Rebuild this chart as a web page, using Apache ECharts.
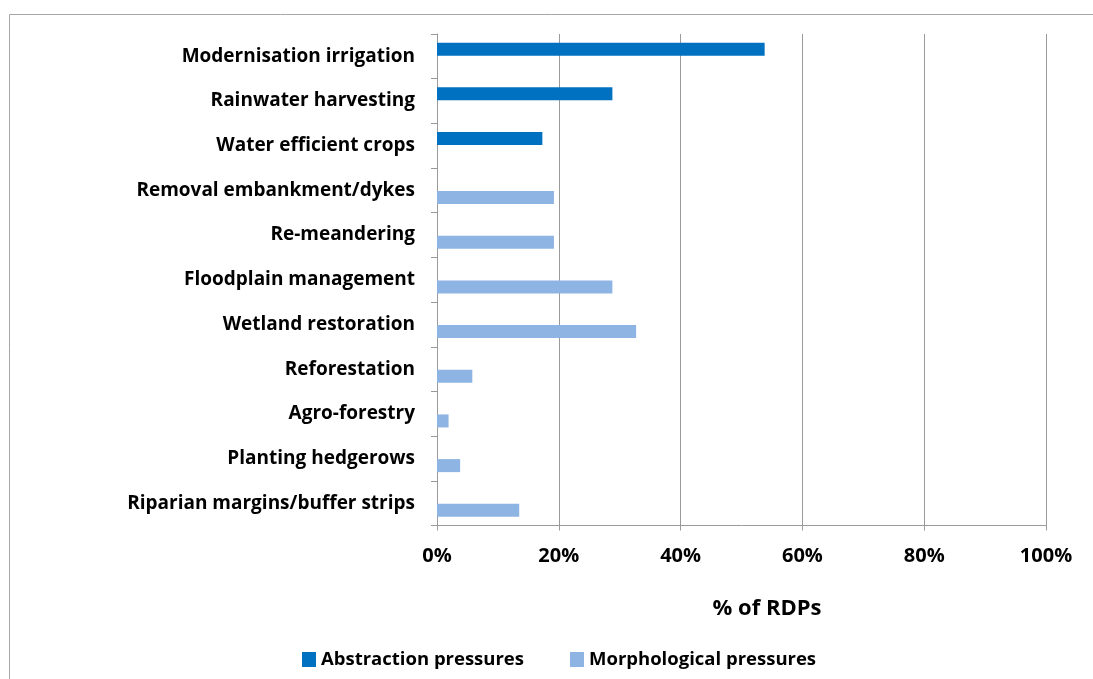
<!DOCTYPE html>
<html>
<head>
<meta charset="utf-8">
<script src="https://cdn.jsdelivr.net/npm/echarts@6/dist/echarts.min.js"></script>
<style>
html,body{margin:0;padding:0;background:#fff;}
#chart{width:1093px;height:679px;}
</style>
</head>
<body>
<div id="chart"></div>
<script>
const categories = [
  'Modernisation irrigation',
  'Rainwater harvesting',
  'Water efficient crops',
  'Removal embankment/dykes',
  'Re-meandering',
  'Floodplain management',
  'Wetland restoration',
  'Reforestation',
  'Agro-forestry',
  'Planting hedgerows',
  'Riparian margins/buffer strips'
];
const abstractionValues = [53.8, 28.8, 17.3, null, null, null, null, null, null, null, null];
const morphologicalValues = [null, null, null, 19.2, 19.2, 28.8, 32.7, 5.8, 1.9, 3.8, 13.5];
const seriesNames = ['Abstraction pressures', 'Morphological pressures'];
const axisTitle = '% of RDPs';

const FONT = 'Open Sans';
const chart = echarts.init(document.getElementById('chart'));
chart.setOption({
  animation: false,
  backgroundColor: '#fff',
  graphic: [{
    type: 'rect',
    shape: {x: 9.5, y: 14.5, width: 1200, height: 800},
    style: {fill: 'none', stroke: '#a6a6a6', lineWidth: 1},
    silent: true
  }],
  title: {
    text: axisTitle,
    left: 762, top: 593,
    textAlign: 'center',
    textStyle: {fontFamily: FONT, fontWeight: 'bold', fontSize: 22, color: '#000'}
  },
  legend: {
    data: seriesNames,
    left: 302, top: 650, padding: 0,
    itemWidth: 14, itemHeight: 15, itemGap: 46, itemTextGap: 4,
    icon: 'rect',
    textStyle: {fontFamily: FONT, fontWeight: 'bold', fontSize: 18.5, color: '#000'}
  },
  grid: {left: 437, right: 47, top: 34, bottom: 153.5, containLabel: false},
  xAxis: {
    type: 'value', min: 0, max: 100, interval: 20,
    axisLine: {show: true, lineStyle: {color: '#9a9a9a'}},
    axisTick: {show: true, length: 5, lineStyle: {color: '#9a9a9a'}},
    splitLine: {show: true, lineStyle: {color: '#9a9a9a', width: 1}},
    axisLabel: {formatter: '{value}%', margin: 21, fontFamily: FONT, fontWeight: 'bold', fontSize: 20, color: '#000'}
  },
  yAxis: {
    type: 'category', data: categories, inverse: true,
    axisLine: {show: true, lineStyle: {color: '#9a9a9a'}},
    axisTick: {show: true, length: 6, lineStyle: {color: '#9a9a9a'}},
    axisLabel: {margin: 22, fontFamily: FONT, fontWeight: 'bold', fontSize: 19, color: '#000'}
  },
  series: [
    {name: seriesNames[0], type: 'bar', data: abstractionValues, barWidth: 13, barGap: '10%',
     itemStyle: {color: '#0070C0'}},
    {name: seriesNames[1], type: 'bar', data: morphologicalValues, barWidth: 13, barGap: '10%',
     itemStyle: {color: '#8DB4E2'}}
  ]
});
</script>
</body>
</html>
